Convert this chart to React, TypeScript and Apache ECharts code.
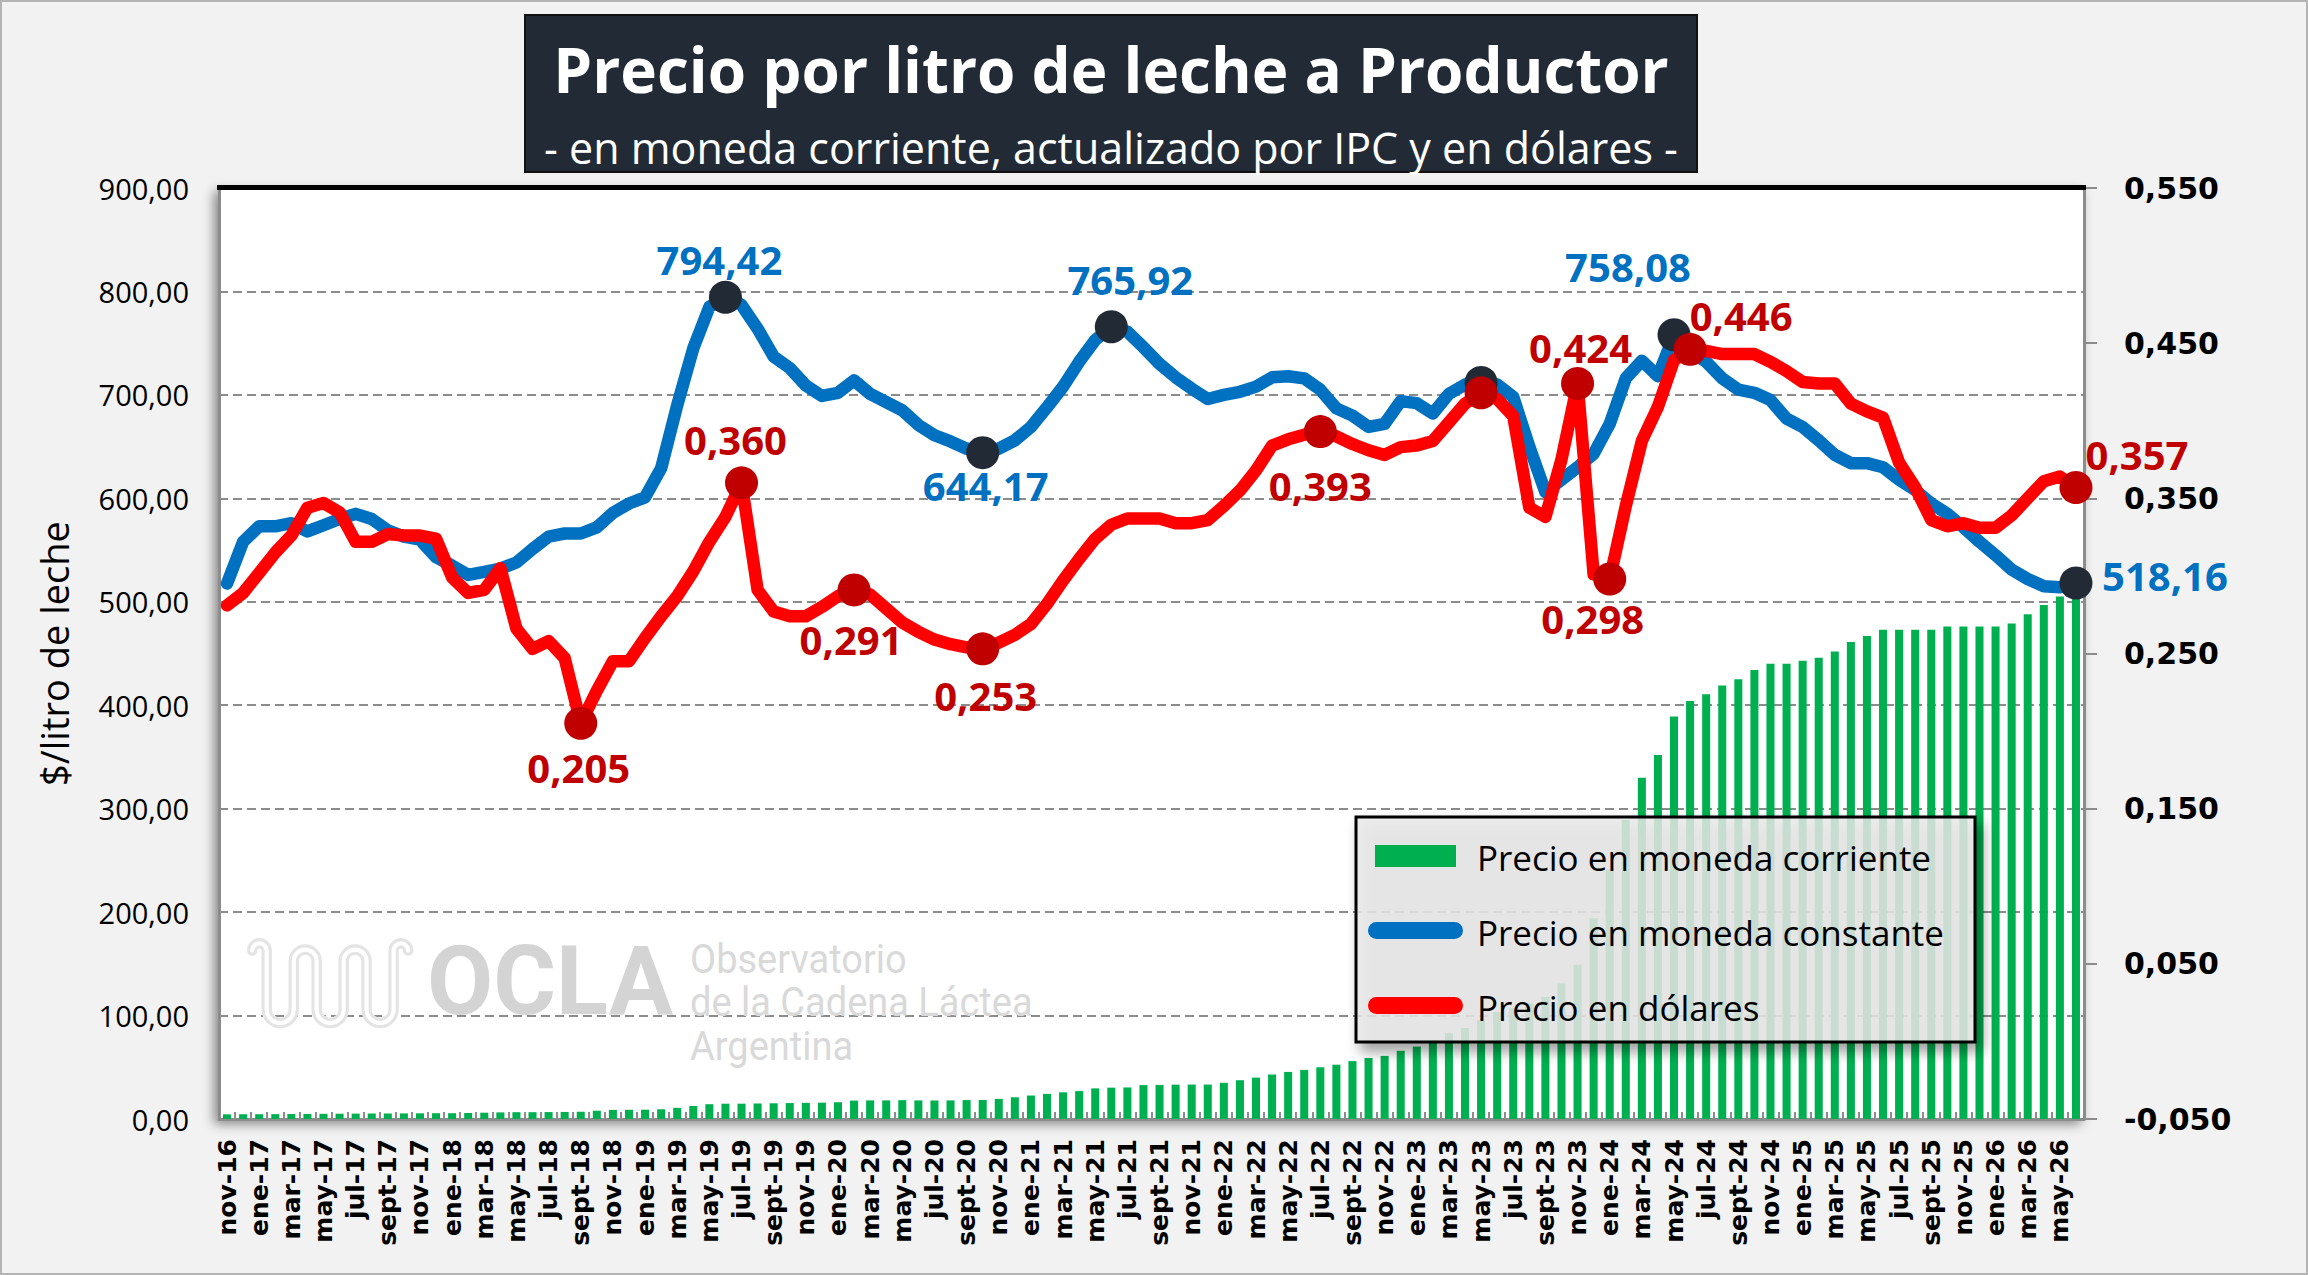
import { useRef, useEffect } from 'react'
import * as echarts from 'echarts'

// ── categorías: mensual, nov-16 a jun-26 ─────────────────────────
const meses = [
  'nov-16', 'dic-16',
  'ene-17', 'feb-17', 'mar-17', 'abr-17', 'may-17', 'jun-17', 'jul-17', 'ago-17', 'sept-17', 'oct-17', 'nov-17', 'dic-17',
  'ene-18', 'feb-18', 'mar-18', 'abr-18', 'may-18', 'jun-18', 'jul-18', 'ago-18', 'sept-18', 'oct-18', 'nov-18', 'dic-18',
  'ene-19', 'feb-19', 'mar-19', 'abr-19', 'may-19', 'jun-19', 'jul-19', 'ago-19', 'sept-19', 'oct-19', 'nov-19', 'dic-19',
  'ene-20', 'feb-20', 'mar-20', 'abr-20', 'may-20', 'jun-20', 'jul-20', 'ago-20', 'sept-20', 'oct-20', 'nov-20', 'dic-20',
  'ene-21', 'feb-21', 'mar-21', 'abr-21', 'may-21', 'jun-21', 'jul-21', 'ago-21', 'sept-21', 'oct-21', 'nov-21', 'dic-21',
  'ene-22', 'feb-22', 'mar-22', 'abr-22', 'may-22', 'jun-22', 'jul-22', 'ago-22', 'sept-22', 'oct-22', 'nov-22', 'dic-22',
  'ene-23', 'feb-23', 'mar-23', 'abr-23', 'may-23', 'jun-23', 'jul-23', 'ago-23', 'sept-23', 'oct-23', 'nov-23', 'dic-23',
  'ene-24', 'feb-24', 'mar-24', 'abr-24', 'may-24', 'jun-24', 'jul-24', 'ago-24', 'sept-24', 'oct-24', 'nov-24', 'dic-24',
  'ene-25', 'feb-25', 'mar-25', 'abr-25', 'may-25', 'jun-25', 'jul-25', 'ago-25', 'sept-25', 'oct-25', 'nov-25', 'dic-25',
  'ene-26', 'feb-26', 'mar-26', 'abr-26', 'may-26', 'jun-26',
]

// ── precio en moneda corriente ($/l, barras) ─────────────────────
const precioCorriente = [
  4.5, 4.6,
  4.6, 4.7, 4.8, 4.9, 5.0, 5.1, 5.2, 5.3, 5.3, 5.4, 5.5, 5.6,
  5.6, 5.8, 6.1, 6.4, 6.6, 6.6, 6.7, 6.8, 7.0, 8.0, 8.8, 8.9,
  9.0, 9.4, 10.8, 12.6, 14.3, 14.8, 14.8, 15.0, 15.2, 15.4, 15.6, 15.8,
  16.2, 17.8, 18.0, 18.0, 18.2, 18.0, 17.9, 18.0, 18.3, 18.4, 19.5, 21.0,
  22.7, 24.3, 25.8, 27.0, 29.6, 30.3, 30.5, 32.8, 33.0, 33.2, 33.3, 33.3,
  35.0, 37.5, 40.0, 43.0, 45.5, 47.5, 50.0, 52.5, 56.0, 59.0, 61.0, 66.0,
  70.0, 76.0, 83.0, 88.0, 95.5, 103.5, 107.0, 112.0, 118.0, 131.0, 149.0, 194.0,
  241.0, 289.0, 330.0, 352.0, 389.0, 404.0, 410.5, 419.0, 425.0, 434.0, 440.0, 440.0,
  443.0, 446.0, 452.0, 461.0, 467.0, 473.0, 473.0, 473.0, 473.0, 476.0, 476.0, 476.0,
  476.0, 479.0, 488.0, 497.0, 505.0, 512.0,
]

// ── precio en moneda constante (actualizado por IPC) ─────────────
const precioConstante = [
  517.7, 558,
  573, 573, 576, 568, 574, 580, 585, 580, 569, 563, 560, 543,
  535, 526, 529, 532, 538, 551, 563, 566, 566, 572, 586, 595,
  601, 629, 690, 745, 785, 794.42, 787, 764, 737, 726, 709, 699,
  702, 714, 701, 693, 685, 671, 661, 655, 648, 644.17, 648, 656,
  669, 688, 708, 732, 753, 765.92, 761, 746, 730, 717, 706, 696,
  700, 703, 708, 717, 718, 716, 705, 687, 680, 669, 672, 694,
  692, 682, 701, 710, 712, 710, 698, 650, 606, 618, 630, 643,
  672, 716, 733, 718, 758.08, 742, 732, 716, 705, 702, 695, 677,
  669, 656, 642, 634, 634, 630, 618, 608, 595, 585, 572, 558,
  545, 531, 522, 515, 514, 518.16,
]

// ── precio en dólares (eje derecho) ──────────────────────────────
const precioDolares = [
  0.281, 0.289,
  0.302, 0.315, 0.326, 0.344, 0.347, 0.341, 0.322, 0.322, 0.327, 0.326, 0.326, 0.324,
  0.299, 0.289, 0.291, 0.305, 0.266, 0.253, 0.258, 0.247, 0.205, 0.226, 0.245, 0.245,
  0.260, 0.274, 0.287, 0.303, 0.322, 0.338, 0.360, 0.291, 0.277, 0.274, 0.274, 0.280,
  0.287, 0.291, 0.288, 0.279, 0.270, 0.264, 0.259, 0.256, 0.254, 0.253, 0.257, 0.262,
  0.269, 0.282, 0.297, 0.311, 0.324, 0.333, 0.337, 0.337, 0.337, 0.334, 0.334, 0.336,
  0.345, 0.355, 0.368, 0.384, 0.388, 0.391, 0.393, 0.390, 0.385, 0.381, 0.378, 0.383,
  0.384, 0.387, 0.399, 0.411, 0.418, 0.414, 0.403, 0.344, 0.338, 0.375, 0.424, 0.301,
  0.298, 0.345, 0.387, 0.409, 0.439, 0.446, 0.445, 0.443, 0.443, 0.443, 0.438, 0.432,
  0.425, 0.424, 0.424, 0.411, 0.406, 0.402, 0.373, 0.357, 0.336, 0.332, 0.334, 0.331,
  0.331, 0.339, 0.350, 0.361, 0.364, 0.357,
]

// puntos destacados (índices de mes)
const hitosConstante = [31, 47, 55, 78, 90, 115]
const hitosDolares = [22, 32, 39, 47, 68, 78, 84, 86, 91, 115]

// ── ubicación de etiquetas (desplazamiento respecto del punto) ───
const etiquetasConstante: Record<number, [number, number]> = {
  31: [-6, -38], 47: [3, 33], 55: [19, -47], 90: [-46, -68], 115: [89, -7],
}
const etiquetasDolares: Record<number, [number, number]> = {
  22: [-2, 44], 32: [-6, -43], 39: [-3, 50], 47: [3, 47], 68: [0, 54],
  84: [3, -36], 86: [-17, 39], 91: [51, -34], 115: [61, -33],
}

const AZUL = '#0070c0'
const ROJO = '#ff0000'
const ROJO_OSC = '#c00000'
const VERDE = '#00b050'
const NAVY = '#222a35'

const coma = (v: number, d: number) => v.toFixed(d).replace('.', ',')

// ── logo de fondo (serpentina) ───────────────────────────────────
const ONDA =
  'M4,12 A7,7 0 0 1 18,12 L18,68 A13,13 0 0 0 44,68 L44,22 A11,11 0 0 1 66,22 L66,68 A13,13 0 0 0 92,68 ' +
  'L92,22 A11,11 0 0 1 114,22 L114,68 A13,13 0 0 0 140,68 L140,12 A7,7 0 0 1 154,12'

function puntos(
  valores: number[], hitos: number[], etiquetas: Record<number, [number, number]>,
  colorPunto: string, colorTexto: string, dec: number,
) {
  return valores.map((v, i) => {
    if (!hitos.includes(i)) return v
    const off = etiquetas[i]
    return {
      value: v,
      symbol: 'circle',
      symbolSize: 33,
      itemStyle: { color: colorPunto },
      label: off
        ? {
            show: true, position: 'inside', offset: off,
            formatter: () => coma(v, dec),
            color: colorTexto, fontSize: 40, fontWeight: 'bold',
            fontFamily: '"Noto Sans", "Open Sans", sans-serif',
          }
        : { show: false },
    }
  })
}

const txt = (align: string) => ({
  align, verticalAlign: 'middle', textAlign: align, textVerticalAlign: 'middle',
})

function buildOption(): echarts.EChartsOption {
  const gx0 = 219, gx1 = 2084, gy0 = 188, gy1 = 1119
  return {
    animation: false,
    backgroundColor: '#f2f2f2',
    grid: {
      left: gx0, right: 2308 - gx1, top: gy0, bottom: 1275 - gy1,
      show: true, backgroundColor: '#ffffff', borderColor: '#8c8c8c', borderWidth: 2,
      shadowBlur: 12, shadowColor: 'rgba(0,0,0,0.45)', shadowOffsetX: -4, shadowOffsetY: 4,
    },
    xAxis: {
      type: 'category', data: meses, boundaryGap: true,
      axisLine: { lineStyle: { color: '#8c8c8c', width: 3 } },
      axisTick: { show: true, inside: true, interval: 0, length: 7, lineStyle: { color: '#8c8c8c', width: 2 } },
      axisLabel: {
        interval: 1, rotate: 90, margin: 20,
        color: '#000', fontSize: 25, fontWeight: 'bold', fontFamily: '"DejaVu Sans", sans-serif',
      },
      splitLine: { show: false },
    },
    yAxis: [
      {
        type: 'value', min: 0, max: 900, interval: 100, position: 'left',
        name: '$/litro de leche', nameLocation: 'middle', nameGap: 146, nameRotate: 90,
        nameTextStyle: { color: '#000', fontSize: 38, fontFamily: '"Open Sans", sans-serif' },
        axisLine: { show: true, lineStyle: { color: '#8c8c8c', width: 3 } },
        axisTick: { show: false },
        axisLabel: {
          margin: 30, color: '#000', fontSize: 29, fontFamily: '"Open Sans", sans-serif',
          formatter: (v: number) => coma(v, 2),
        },
        splitLine: { show: true, lineStyle: { color: '#8c8c8c', width: 2, type: [9, 5] } },
      },
      {
        type: 'value', min: -0.05, max: 0.55, interval: 0.1, position: 'right',
        axisLine: { show: true, lineStyle: { color: '#8c8c8c', width: 3 } },
        axisTick: { show: true, length: 13, lineStyle: { color: '#8c8c8c', width: 2 } },
        axisLabel: {
          margin: 40, color: '#000', fontSize: 30, fontWeight: 'bold',
          fontFamily: '"DejaVu Sans", sans-serif',
          formatter: (v: number) => coma(v, 3),
        },
        splitLine: { show: false },
      },
    ],
    series: [
      {
        name: 'Precio en moneda corriente', type: 'bar', yAxisIndex: 0,
        data: precioCorriente, barWidth: '50%',
        itemStyle: { color: VERDE },
      },
      {
        name: 'Precio en moneda constante', type: 'line', yAxisIndex: 0,
        data: puntos(precioConstante, hitosConstante, etiquetasConstante, NAVY, AZUL, 2),
        symbol: 'none', showSymbol: true, showAllSymbol: true, clip: false,
        lineStyle: { color: AZUL, width: 12.5, join: 'round', cap: 'round' },
        itemStyle: { color: AZUL },
        z: 3,
      },
      {
        name: 'Precio en dólares', type: 'line', yAxisIndex: 1,
        data: puntos(precioDolares, hitosDolares, etiquetasDolares, ROJO_OSC, ROJO_OSC, 3),
        symbol: 'none', showSymbol: true, showAllSymbol: true, clip: false,
        lineStyle: { color: ROJO, width: 12.5, join: 'round', cap: 'round' },
        itemStyle: { color: ROJO },
        z: 4,
      },
    ],
    graphic: [
      // marco exterior
      { type: 'rect', z: 0, silent: true, shape: { x: 1, y: 1, width: 2306, height: 1273 },
        style: { fill: 'none', stroke: '#b4b4b4', lineWidth: 2 } },
      // borde superior del área de gráfico
      { type: 'rect', z: 20, silent: true, shape: { x: gx0 - 2, y: gy0 - 3, width: gx1 - gx0 + 4, height: 5 },
        style: { fill: '#000' } },
      // caja de título
      { type: 'rect', z: 20, silent: true, shape: { x: 525, y: 15, width: 1172, height: 157 },
        style: { fill: NAVY, stroke: '#111', lineWidth: 2 } },
      { type: 'text', z: 21, silent: true, x: 1111, y: 69,
        style: {
          text: 'Precio por litro de leche a Productor', fill: '#fff',
          fontSize: 62, fontWeight: 'bold', fontFamily: '"Open Sans", sans-serif', ...txt('center'),
        } as any },
      { type: 'text', z: 21, silent: true, x: 1111, y: 147,
        style: {
          text: '- en moneda corriente, actualizado por IPC y en dólares -', fill: '#fff',
          fontSize: 43, fontFamily: '"Open Sans", sans-serif', ...txt('center'),
        } as any },
      // marca de agua OCLA
      { type: 'oclaOnda', z: 1, silent: true, x: 248, y: 938, scaleX: 1.04, scaleY: 1.05,
        style: { fill: 'none', stroke: '#e4e4e4', lineWidth: 10, lineCap: 'round' } } as any,
      { type: 'oclaOnda', z: 1, silent: true, x: 248, y: 938, scaleX: 1.04, scaleY: 1.05,
        style: { fill: 'none', stroke: '#ffffff', lineWidth: 4, lineCap: 'round' } } as any,
      { type: 'text', z: 1, silent: true, x: 427, y: 981,
        style: {
          text: 'OCLA', fill: '#d4d4d4', fontSize: 96, fontWeight: 'bold', fontFamily: 'Roboto, sans-serif',
          ...txt('left'),
        } as any },
      { type: 'text', z: 1, silent: true, x: 690, y: 960, scaleX: 0.95,
        style: {
          text: 'Observatorio', fill: '#d9d9d9', fontSize: 40, fontFamily: 'Roboto, sans-serif', ...txt('left'),
        } as any },
      { type: 'text', z: 1, silent: true, x: 690, y: 1003, scaleX: 0.95,
        style: {
          text: 'de la Cadena Láctea', fill: '#d9d9d9', fontSize: 40, fontFamily: 'Roboto, sans-serif', ...txt('left'),
        } as any },
      { type: 'text', z: 1, silent: true, x: 690, y: 1047, scaleX: 0.95,
        style: {
          text: 'Argentina', fill: '#d9d9d9', fontSize: 40, fontFamily: 'Roboto, sans-serif', ...txt('left'),
        } as any },
      // leyenda
      { type: 'rect', z: 30, silent: true, shape: { x: 1356, y: 817, width: 619, height: 225 },
        style: {
          fill: 'rgba(234,234,234,0.82)', stroke: '#000', lineWidth: 3,
          shadowBlur: 14, shadowColor: 'rgba(0,0,0,0.45)', shadowOffsetX: 6, shadowOffsetY: 8,
        } },
      { type: 'rect', z: 31, silent: true, shape: { x: 1375, y: 845, width: 81, height: 22 }, style: { fill: VERDE } },
      { type: 'rect', z: 31, silent: true, shape: { x: 1368, y: 922, width: 95, height: 17, r: 8.5 }, style: { fill: AZUL } },
      { type: 'rect', z: 31, silent: true, shape: { x: 1368, y: 997, width: 95, height: 17, r: 8.5 }, style: { fill: ROJO } },
      ...([
        ['Precio en moneda corriente', 857],
        ['Precio en moneda constante', 932],
        ['Precio en dólares', 1007],
      ] as [string, number][]).map(([t, y]) => ({
        type: 'text', z: 31, silent: true, x: 1477, y,
        style: {
          text: t, fill: '#000', fontSize: 35, fontFamily: '"Open Sans", sans-serif', ...txt('left'),
        },
      })) as any,
    ],
  } as echarts.EChartsOption
}

export default function App() {
  const ref = useRef<HTMLDivElement>(null)

  useEffect(() => {
    if (!ref.current) return
    echarts.graphic.registerShape('oclaOnda', echarts.graphic.extendPath(ONDA, {}))
    const chart = echarts.init(ref.current, undefined, { renderer: 'svg' })
    chart.setOption(buildOption())
    return () => chart.dispose()
  }, [])

  return (
    <div
      ref={ref}
      style={{ position: 'fixed', left: 0, top: 0, width: 2308, height: 1275 }}
    />
  )
}
